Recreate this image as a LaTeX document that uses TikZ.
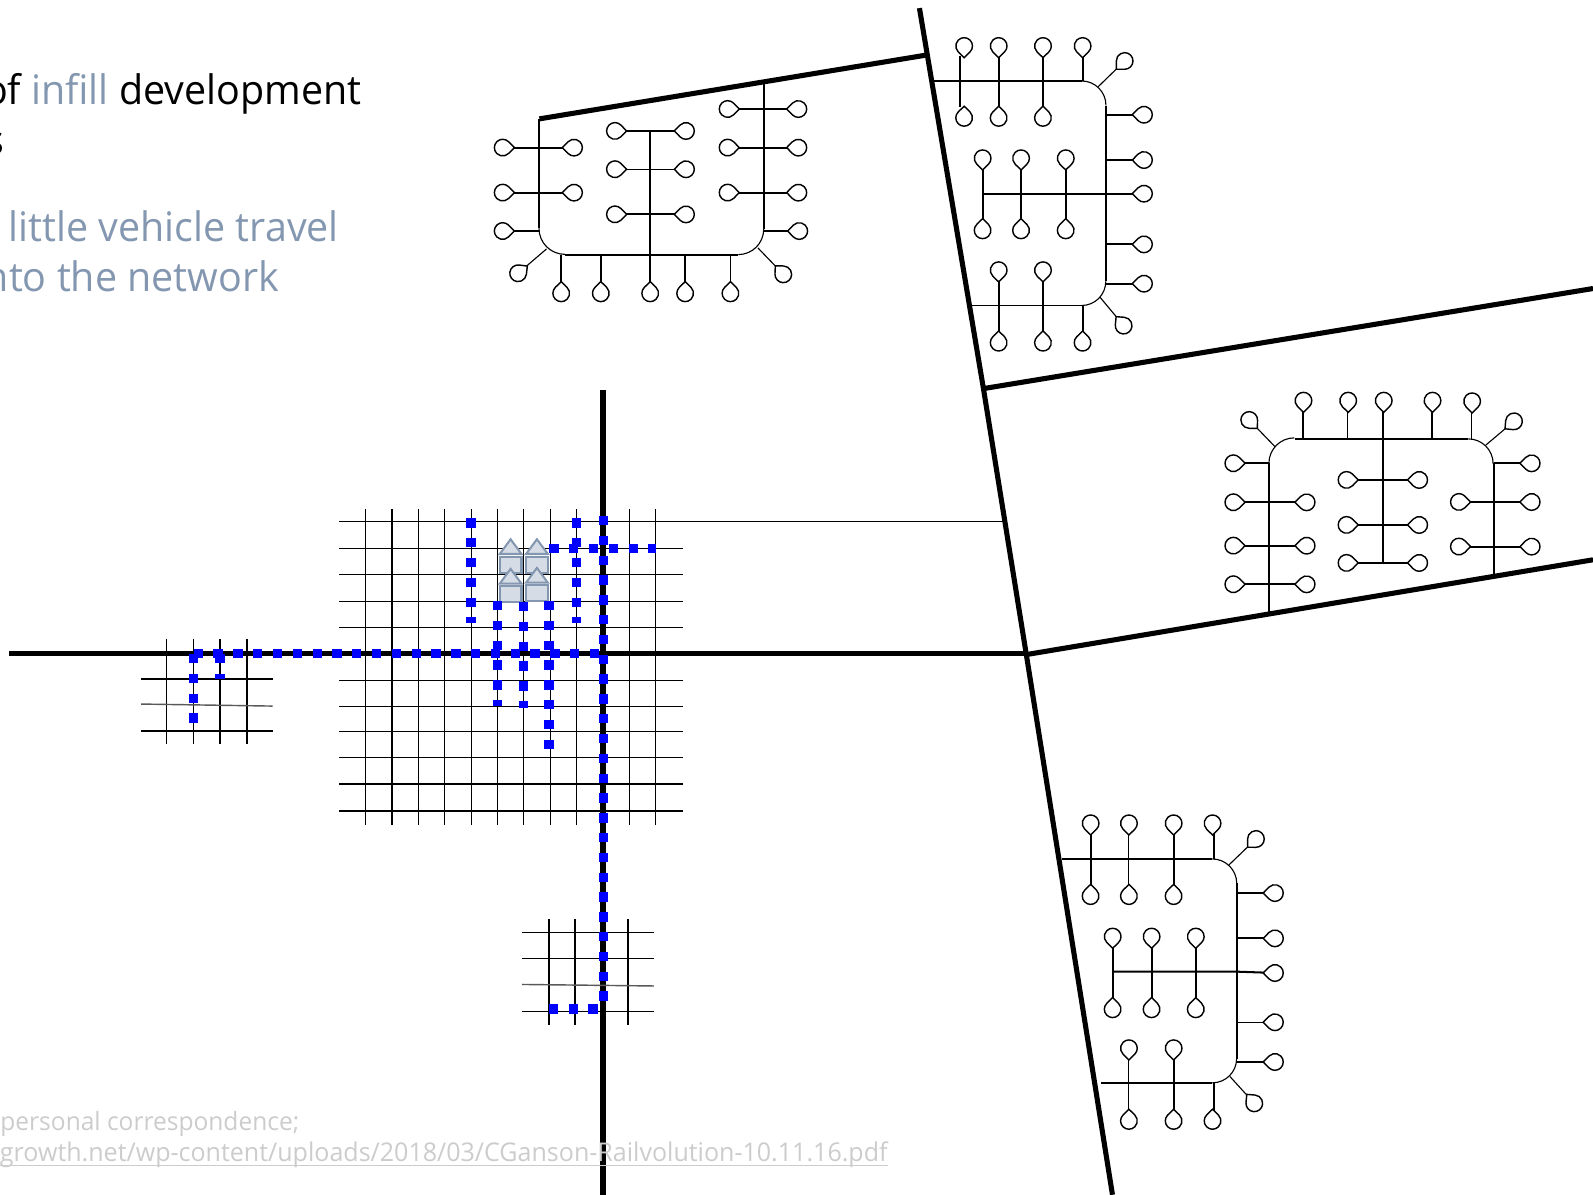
\documentclass[tikz,border=0pt]{standalone}
\usepackage{xcolor}
\usepackage{fontspec}
\setmainfont[FakeStretch=0.97]{Open Sans}
\definecolor{slatetext}{HTML}{8497B0}
\definecolor{citegray}{HTML}{CCCCCC}
\definecolor{housefill}{HTML}{D6DCE5}
\definecolor{transitblue}{HTML}{0000FF}
\tikzset{
    arterial/.style={line width=2.5pt, color=black},
    localroad/.style={line width=1pt, color=black},
    thinroad/.style={line width=0.55pt, color=black},
    gridroad/.style={line width=0.65pt, color=black},
    heavygrid/.style={line width=0.95pt, color=black},
    faintgrid/.style={line width=0.7pt, color=black!65},
    transit/.style={line width=4.6pt, color=transitblue, dash pattern=on 4.6pt off 5.15pt},
    headtext/.style={font=\fontsize{20}{24}\selectfont, inner sep=0pt, anchor=base east},
    citetext/.style={font=\fontsize{12.7}{15}\selectfont, color=citegray, inner sep=0pt},
    culdesac/.pic={
        \draw[line width=0.7pt, fill=white] (-11.5,0) -- (-5.85,5.75)
            arc[start angle=135.5, end angle=-135.5, radius=8.2] -- cycle;
    },
    house/.pic={
        \draw[line width=1pt, color=slatetext, fill=housefill] (0,0) -- (-10.7,14.5) -- (10.7,14.5) -- cycle;
        \draw[line width=1pt, color=slatetext, fill=housefill] (-10.7,17.1) rectangle (10.7,32.9);
    }
}
\newcommand{\culdesacs}[2]{\foreach \cx/\cy in {#2} \pic[rotate=#1] at (\cx,\cy) {culdesac};}
\begin{document}
\begin{tikzpicture}[x=0.5pt, y=-0.5pt]
    \useasboundingbox (0,0) rectangle (1568,1176);

    % Arterials
    \draw[arterial] (905,8) -- (968,382.5) -- (1010,643) -- (1095,1176);
    \draw[arterial] (913,54) -- (531,117);
    \draw[arterial] (968,382.5) -- (1568,284);
    \draw[arterial] (1012,644) -- (1568,551);
    \draw[arterial] (9,643.3) -- (1010,643.3);
    \draw[arterial] (593.5,384) -- (593.5,1176);

    % Central grid
    \foreach \x in {360,386,412,437.5,464,489.5,515.5,541.7,567.3,619.6,645.5}
        \draw[gridroad] (\x,501) -- (\x,812);
    \foreach \y in {539.6,565.3,591.9,617.5,669.5,695.1}
        \draw[gridroad] (334,\y) -- (672.2,\y);
    \foreach \y in {720,745.6,772,798}
        \draw[heavygrid] (334,\y) -- (672.2,\y);
    \draw[thinroad] (334,513) -- (988,513);

    % Left grid
    \foreach \x in {164,190.6,216.5,243}
        \draw[gridroad] (\x,628.9) -- (\x,732);
    \foreach \y in {668.3,719.5}
        \draw[gridroad] (138.8,\y) -- (268.4,\y);
    \draw[faintgrid] (138.8,693) -- (268.4,695);

    % Lower grid
    \foreach \x in {540.4,566,591.5,618}
        \draw[gridroad] (\x,904.8) -- (\x,1008.9);
    \foreach \y in {917.7,943.2,995.4}
        \draw[gridroad] (513.8,\y) -- (643.7,\y);
    \draw[faintgrid] (513.8,969) -- (643.7,970.5);

    % Houses
    \foreach \hx/\hy in {502.6/530.8,528.5/530.8,502.6/560,528.5/559}
        \pic at (\hx,\hy) {house};

    % Transit walk routes
    \draw[transit] (190.6,643.3) -- (590,643.3);
    \draw[transit] (190.6,643.7) -- (190.6,711.6);
    \draw[transit] (216.5,643.7) -- (216.5,668);
    \draw[transit] (463.6,510.2) -- (463.6,613.5);
    \draw[transit] (567.3,510.2) -- (567.3,613.5);
    \draw[transit] (594,507.9) -- (594,985);
    \draw[transit] (540.7,539.7) -- (645.7,539.7);
    \draw[transit] (489.5,591.6) -- (489.5,695.2);
    \draw[transit] (515.4,592.6) -- (515.4,696.5);
    \draw[transit] (540.4,591.6) -- (540.4,737.5);
    \draw[transit] (588.3,993.2) -- (540.4,993.2);

    % Upper subdivision
    \draw[localroad] (530.5,117) -- (530.5,224.7);
    \draw[thinroad] (530.5,224.7) arc[start angle=180, end angle=90, radius=25.7];
    \draw[localroad] (556,250.6) -- (726.7,250.6);
    \draw[thinroad] (726.7,250.6) arc[start angle=90, end angle=0, radius=25];
    \draw[localroad] (752,80.5) -- (752,225.6);
    \foreach \y in {145.3,189.6} {
        \draw[localroad] (494.8,\y) -- (565,\y);
        \draw[localroad] (716.2,\y) -- (785.8,\y);
    }
    \draw[thinroad] (494.8,227.4) -- (530.5,227.4);
    \draw[thinroad] (752,227.4) -- (786.7,227.4);
    \draw[thinroad] (716.2,107.3) -- (785.8,107.3);
    \draw[localroad] (605.3,128.9) -- (675.2,128.9);
    \draw[thinroad] (605.3,166.6) -- (675.2,166.6);
    \draw[localroad] (605.3,211) -- (675.2,211);
    \draw[thinroad] (639.8,128.9) -- (639.8,250.6);
    \foreach \x in {552.4,591.4,640,674.4}
        \draw[localroad] (\x,250.6) -- (\x,288.7);
    \draw[thinroad] (719,250.6) -- (719,288.7);
    \draw[thinroad] (538,245) -- (510,269);
    \draw[thinroad] (746,244) -- (771,270);
    \culdesacs{180}{494.8/145.3,494.8/189.6,494.8/227.4,605.3/128.9,605.3/166.6,605.3/211,716.2/107.3,716.2/145.3,716.2/189.6}
    \culdesacs{0}{565/145.3,565/189.6,675.2/128.9,675.2/166.6,675.2/211,785.8/107.3,785.8/145.3,785.8/189.6,786.7/227.4}
    \culdesacs{-90}{552.4/288.7,591.4/288.7,640/288.7,674.4/288.7,719/288.7}
    \culdesacs{218}{510/269}
    \culdesacs{-47}{771/270}

    % Upper right subdivision
    \draw[localroad] (918,79.7) -- (1064.6,79.7);
    \draw[thinroad] (1064.6,79.7) arc[start angle=270, end angle=360, radius=24];
    \draw[localroad] (1088.4,104) -- (1088.4,277);
    \draw[thinroad] (1088.4,277) arc[start angle=0, end angle=90, radius=23.7];
    \draw[thinroad] (1064.6,300.5) -- (954.7,300.5);
    \draw[localroad] (945,55) -- (945,105);
    \foreach \x in {983,1026.6} \draw[localroad] (\x,45.3) -- (\x,116);
    \draw[localroad] (1065.6,45.3) -- (1065.6,79.7);
    \foreach \y in {112.9,157.5,240.5,279.2} \draw[localroad] (1088.4,\y) -- (1126,\y);
    \draw[localroad] (967.2,190.6) -- (1126,190.6);
    \foreach \x in {967.2,1005,1049} \draw[localroad] (\x,155.8) -- (\x,226.7);
    \foreach \x in {983,1026.6} \draw[localroad] (\x,266) -- (\x,337.3);
    \draw[localroad] (1065.6,300.5) -- (1065.6,337.3);
    \draw[thinroad] (1081,85.3) -- (1107,60);
    \draw[thinroad] (1082.7,292.5) -- (1106,320.5);
    \culdesacs{90}{949/45.3,983/45.3,1026.6/45.3,1065.6/45.3,967.2/155.8,1005/155.8,1049/155.8,983/266,1026.6/266}
    \culdesacs{-90}{949/116,983/116,1026.6/116,967.2/226.7,1005/226.7,1049/226.7,983/337.3,1026.6/337.3,1065.6/337.3}
    \culdesacs{0}{1126/112.9,1126/157.5,1126/190.6,1126/240.5,1126/279.2}
    \culdesacs{45}{1107/60}
    \culdesacs{-50}{1106/320.5}

    % Right subdivision
    \draw[localroad] (1249,456) -- (1249,602);
    \draw[thinroad] (1249,456) arc[start angle=180, end angle=270, radius=25];
    \draw[localroad] (1274.6,432) -- (1445.2,432);
    \draw[thinroad] (1445.2,432) arc[start angle=270, end angle=360, radius=24.5];
    \draw[localroad] (1470.2,456) -- (1470.2,565);
    \foreach \x in {1282.1,1360.9,1409.1} \draw[localroad] (\x,394.4) -- (\x,432);
    \foreach \x in {1326.1,1448.2} \draw[thinroad] (\x,394.4) -- (\x,432);
    \draw[localroad] (1360.9,432) -- (1360.9,554.1);
    \draw[thinroad] (1254.9,439.6) -- (1229.6,413.4);
    \draw[thinroad] (1462.6,438) -- (1490.2,414.7);
    \draw[localroad] (1214,456) -- (1249,456);
    \foreach \y in {494.4,537.1,575.1} \draw[localroad] (1214,\y) -- (1286.1,\y);
    \foreach \y in {472.4,516.7,554.1} \draw[localroad] (1325.4,\y) -- (1396.9,\y);
    \draw[localroad] (1470.2,456) -- (1507.6,456);
    \foreach \y in {494.1,538} \draw[localroad] (1436,\y) -- (1507.6,\y);
    \culdesacs{90}{1283/394.4,1327/394.4,1362/394.4,1410/394.4,1449/395}
    \culdesacs{180}{1214/456,1214/494.4,1214/537.1,1214/575.1,1325.4/472.4,1325.4/516.7,1325.4/554.1,1436/494.1,1436/538}
    \culdesacs{0}{1286.1/494.4,1286.1/537.1,1286.1/575.1,1396.9/472.4,1396.9/516.7,1396.9/554.1,1507.6/456,1507.6/494.1,1507.6/538}
    \culdesacs{134}{1229.6/413.4}
    \culdesacs{40}{1490.2/414.7}

    % Lower right subdivision
    \draw[localroad] (1045.6,845.5) -- (1193.3,845.5);
    \draw[thinroad] (1193.3,845.5) arc[start angle=270, end angle=360, radius=24];
    \draw[localroad] (1217.2,869.5) -- (1217.2,1042);
    \draw[thinroad] (1217.2,1042) arc[start angle=0, end angle=90, radius=23.8];
    \draw[localroad] (1193.4,1065.6) -- (1083.3,1065.6);
    \foreach \x in {1073.5,1155.2} \draw[localroad] (\x,810.4) -- (\x,882);
    \draw[thinroad] (1111.2,810.4) -- (1111.2,882);
    \draw[localroad] (1194.6,810.4) -- (1194.6,845.5);
    \foreach \y in {879,923.6,1045.3} \draw[localroad] (1217.2,\y) -- (1254.9,\y);
    \draw[thinroad] (1217.2,1006.2) -- (1254.9,1006.2);
    \draw[localroad] (1095.2,956.4) -- (1217.2,956.4) -- (1254.9,957.7);
    \foreach \x in {1095.2,1133.5,1177} \draw[localroad] (\x,921.9) -- (\x,993.4);
    \draw[thinroad] (1111.2,1031.8) -- (1111.2,1103.3);
    \draw[localroad] (1155.2,1031.8) -- (1155.2,1103.3);
    \draw[localroad] (1194.6,1065.6) -- (1194.6,1103.3);
    \draw[thinroad] (1209.6,851.4) -- (1236.2,825.8);
    \draw[thinroad] (1210.6,1059.6) -- (1234.6,1086);
    \culdesacs{90}{1073.5/810.4,1111.2/810.4,1155.2/810.4,1193.5/810.4,1095.2/921.9,1133.5/921.9,1177/921.9,1111.2/1031.8,1155.2/1031.8}
    \culdesacs{-90}{1073.5/882,1111.2/882,1155.2/882,1095.2/993.4,1133.5/993.4,1177/993.4,1111.2/1103.3,1155.2/1103.3,1193.5/1103.3}
    \culdesacs{0}{1254.9/879,1254.9/923.6,1254.9/957.7,1254.9/1006.2,1254.9/1045.3}
    \culdesacs{45}{1236.2/825.8}
    \culdesacs{-50}{1234.6/1086}

    % Heading, cut by the page edge
    \node[headtext] (headone) at (356,103) {of \textcolor{slatetext}{infill} development};
    \node[headtext] (headtwo) at (5,152) {s};
    \node[headtext, color=slatetext] (headthree) at (334,237.5) {little vehicle travel};
    \node[headtext, color=slatetext] (headfour) at (275,287) {nto the network};

    % Source note
    \node[citetext, anchor=base west, font=\fontsize{12.45}{15}\selectfont] (citeone) at (0,1113) {personal correspondence;};
    \node[citetext, anchor=base east] (citetwo) at (874,1143) {growth.net/wp-content/uploads/2018/03/CGanson-Railvolution-10.11.16.pdf};
    \draw[line width=0.7pt, color=citegray] ([yshift=-2pt]citetwo.base west) -- ([yshift=-2pt]citetwo.base east);
\end{tikzpicture}
\end{document}
